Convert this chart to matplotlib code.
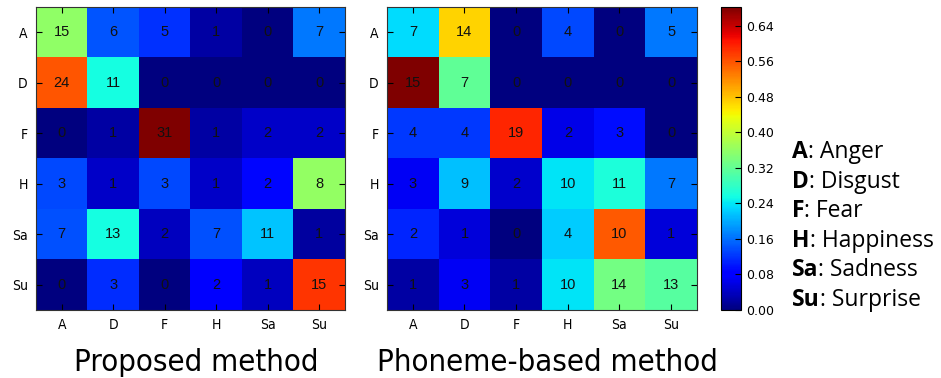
import numpy as np
import matplotlib.pyplot as plt
from matplotlib import font_manager

labels = ['A', 'D', 'F', 'H', 'Sa', 'Su']
legend_names = ['Anger', 'Disgust', 'Fear', 'Happiness', 'Sadness', 'Surprise']

# confusion counts, rows = true, cols = predicted
proposed = np.array([
    [15, 6, 5, 1, 0, 7],
    [24, 11, 0, 0, 0, 0],
    [0, 1, 31, 1, 2, 2],
    [3, 1, 3, 1, 2, 8],
    [7, 13, 2, 7, 11, 1],
    [0, 3, 0, 2, 1, 15],
])
phoneme = np.array([
    [7, 14, 0, 4, 0, 5],
    [15, 7, 0, 0, 0, 0],
    [4, 4, 19, 2, 3, 0],
    [3, 9, 2, 10, 11, 7],
    [2, 1, 0, 4, 10, 1],
    [1, 3, 1, 10, 14, 13],
])
titles = ['Proposed method', 'Phoneme-based method']
cbar_ticks = [0.00, 0.08, 0.16, 0.24, 0.32, 0.40, 0.48, 0.56, 0.64]

# use a condensed face if one is installed
cond = [f for f in font_manager.fontManager.ttflist
        if f.stretch in ('condensed', 'semi-condensed', 'extra-condensed')
        or 'Condensed' in f.name or 'Narrow' in f.name]
cond_ok = [f for f in cond if f.weight in (400, 'normal', 'regular') and f.style == 'normal']
if cond_ok:
    narrow_props = font_manager.FontProperties(fname=cond_ok[0].fname)
    title_size = 22.3
else:
    narrow_props = font_manager.FontProperties(family='DejaVu Sans')
    title_size = 20

fig = plt.figure(figsize=(9.41, 3.78), dpi=100)
W, H = 941.0, 378.0


def box(x0, y0, x1, y1):
    return [x0 / W, 1 - y1 / H, (x1 - x0) / W, (y1 - y0) / H]


ax1 = fig.add_axes(box(36, 7, 345, 310))
ax2 = fig.add_axes(box(387, 7, 697, 310))
cax = fig.add_axes(box(721, 7, 741, 310))

for ax, counts, title in [(ax1, proposed, titles[0]), (ax2, phoneme, titles[1])]:
    norm = counts / counts.sum(axis=1, keepdims=True)
    im = ax.imshow(norm, cmap='jet', interpolation='nearest', vmin=0, vmax=norm.max(),
                   aspect='auto')
    for i in range(len(labels)):
        for j in range(len(labels)):
            ax.text(j, i, str(counts[i, j]), ha='center', va='center', fontsize=10.5,
                    color='#111111', family='Liberation Sans')
    ax.set_xticks(range(len(labels)))
    ax.set_yticks(range(len(labels)))
    tp = narrow_props.copy()
    tp.set_size(10)
    ax.set_xticklabels(labels, fontproperties=tp)
    ax.set_yticklabels(labels, fontproperties=tp)
    ax.tick_params(direction='in', top=True, right=True, length=4, pad=6)
    for s in ax.spines.values():
        s.set_color('#333333')
    pos = ax.get_position()
    hp = narrow_props.copy()
    hp.set_size(title_size)
    fig.text(pos.x0 + pos.width / 2 + 0.006, 1 - 371 / H, title, ha='center',
             va='baseline', fontproperties=hp)

cb = fig.colorbar(im, cax=cax, ticks=cbar_ticks)
cb.ax.set_yticklabels(['%.2f' % t for t in cbar_ticks])
cb.ax.tick_params(labelsize=9, direction='in', length=4, pad=4)

fig.canvas.draw()
r = fig.canvas.get_renderer()
y = 158
for lab, name in zip(labels, legend_names):
    t = fig.text(792 / W, 1 - y / H, lab, fontsize=16.5, fontweight='bold',
                 va='baseline', family='Open Sans')
    bb = t.get_window_extent(renderer=r)
    fig.text(bb.x1 / W, 1 - y / H, ': ' + name, fontsize=16.5, va='baseline',
             family='Open Sans')
    y += 29.6

fig.savefig('out.png', dpi=100)
